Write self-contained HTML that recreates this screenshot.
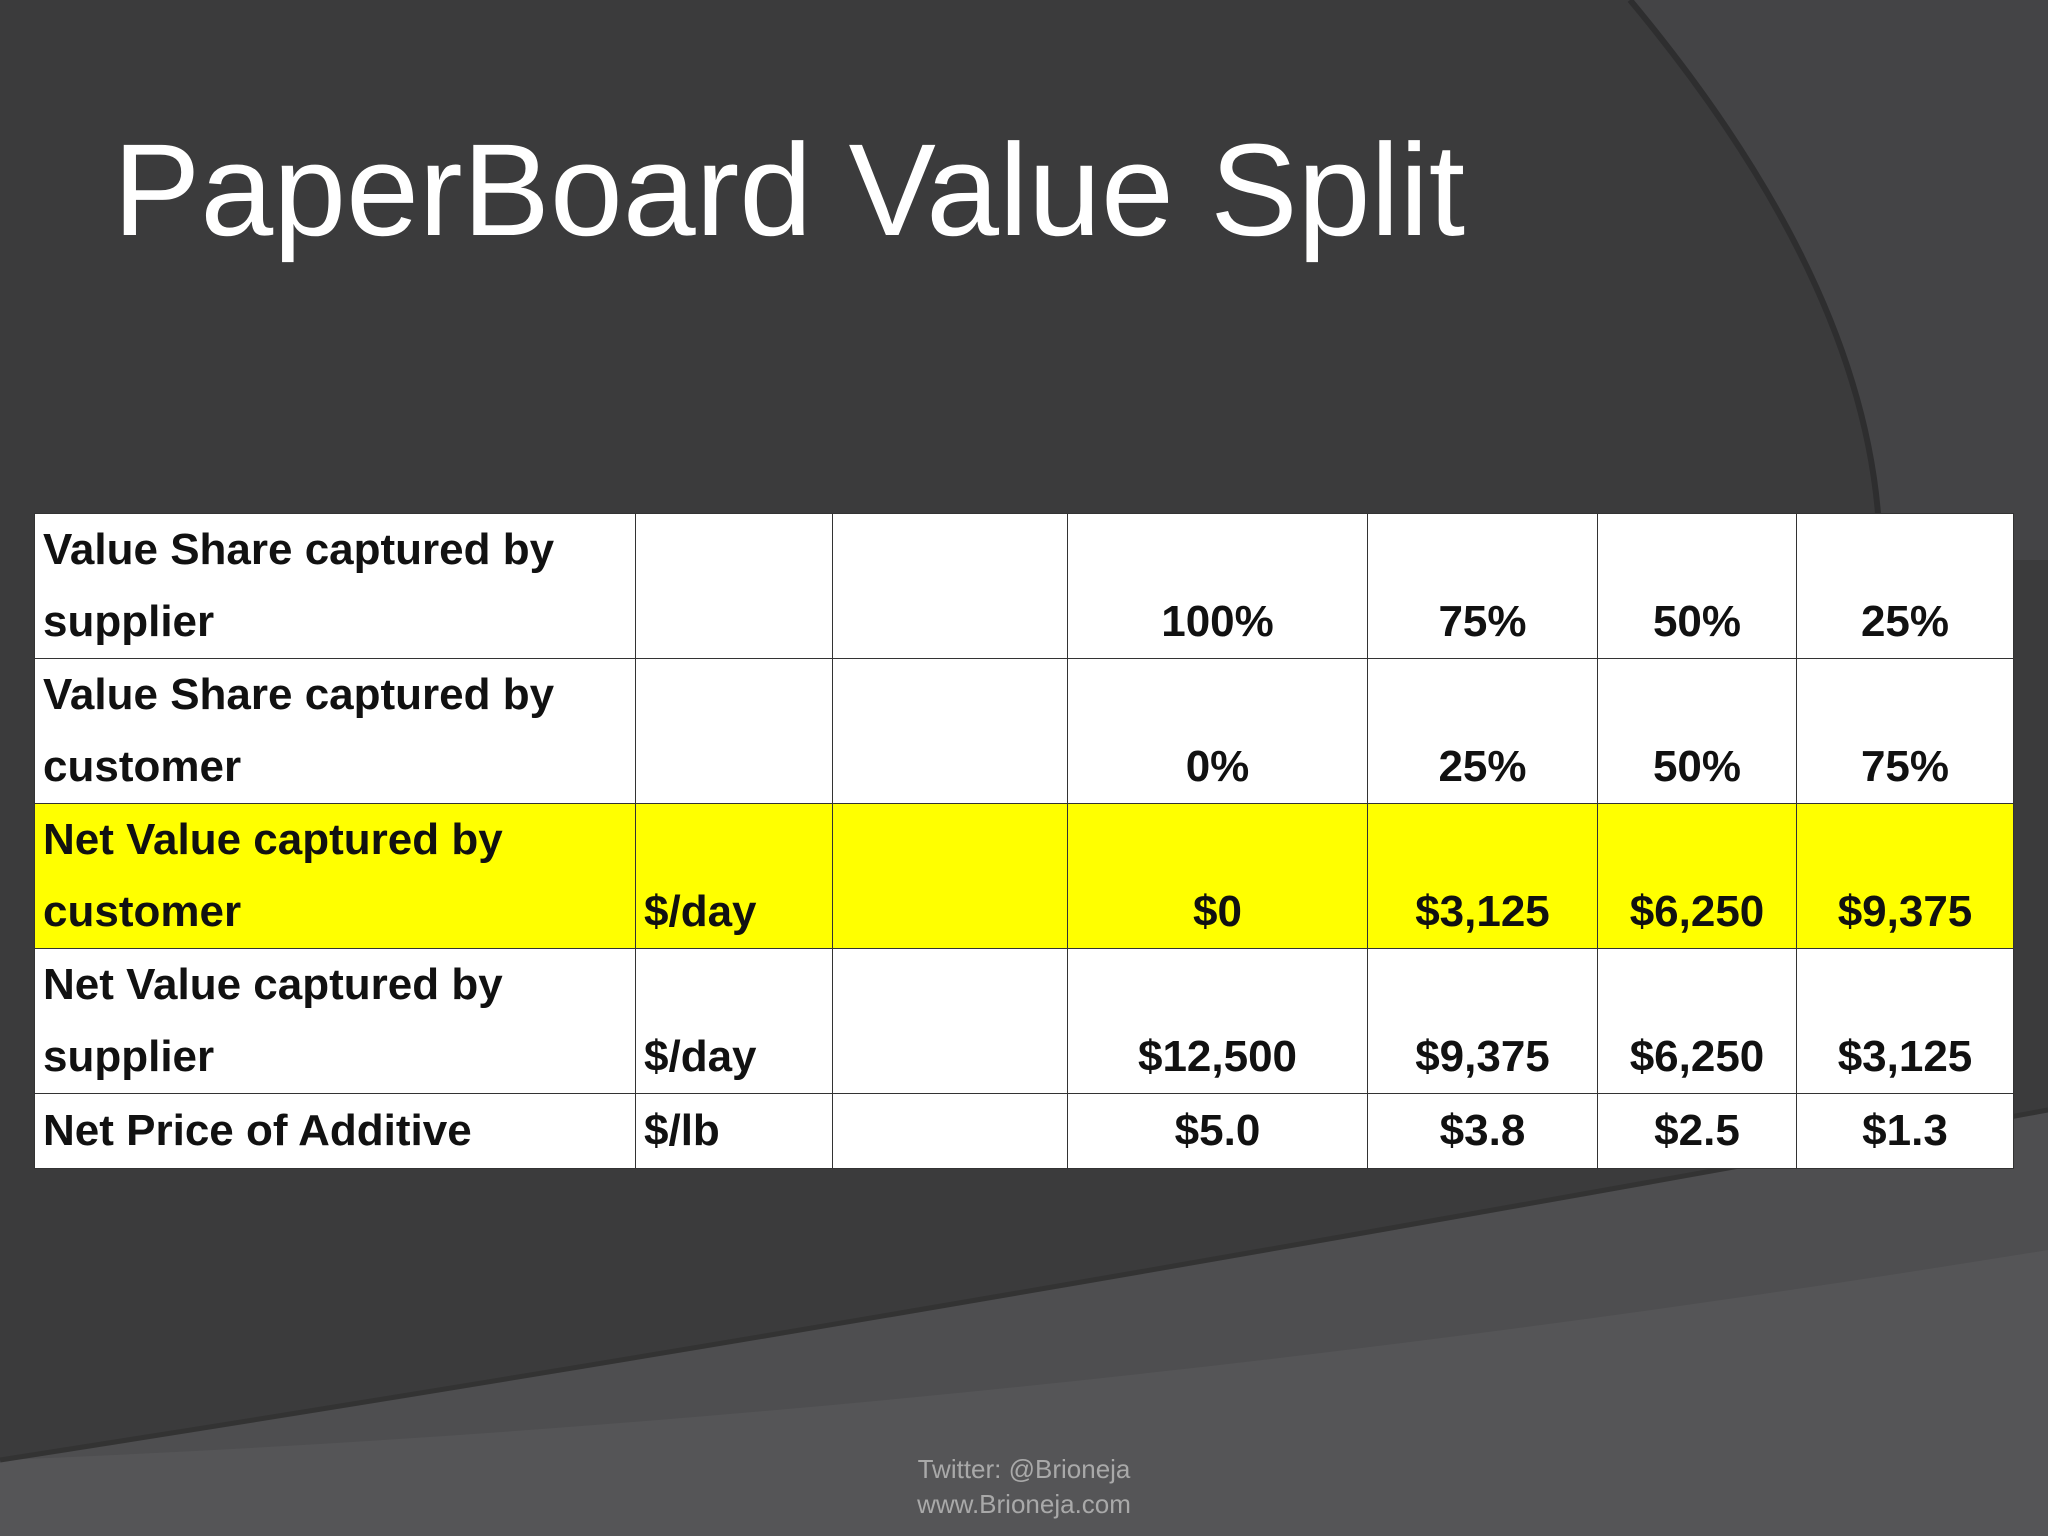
<!DOCTYPE html>
<html><head><meta charset="utf-8">
<style>
html,body{margin:0;padding:0;}
body{width:2048px;height:1536px;position:relative;overflow:hidden;background:#3b3b3c;font-family:"Liberation Sans",sans-serif;}
#bg{position:absolute;left:0;top:0;}
h1{position:absolute;left:113px;top:124px;margin:0;font-weight:normal;font-size:131px;color:#fff;line-height:1;white-space:nowrap;}
table{position:absolute;left:34px;top:513px;border-collapse:collapse;background:#fff;table-layout:fixed;}
td{border:1.5px solid #333;padding:0 8px;font-weight:bold;font-size:44px;color:#111;line-height:72px;vertical-align:bottom;}
td.lab{vertical-align:top;text-align:left;}
td.unit{text-align:left;}
td.num{text-align:center;}
tr.yel td{background:#ffff00;}
.foot{position:absolute;left:0;width:2048px;text-align:center;color:#a9a9a9;font-size:26px;line-height:34px;}
</style></head>
<body>
<svg id="bg" width="2048" height="1536" viewBox="0 0 2048 1536">
<path d="M1630,0 Q1880,300 1880,560 L2048,560 L2048,0 Z" fill="#444446"/>
<path d="M1630,0 Q1880,300 1880,560" stroke="#2e2e2f" stroke-width="6" fill="none"/>
<path d="M0,1460 Q900,1320 2048,1110 L2048,1536 L0,1536 Z" fill="#4e4e50"/>
<path d="M0,1460 Q1000,1420 2048,1250 L2048,1536 L0,1536 Z" fill="#555557"/>
<path d="M0,1460 Q900,1320 2048,1110" stroke="#333" stroke-width="5" fill="none"/>
</svg>
<h1>PaperBoard Value Split</h1>
<table>
<colgroup><col style="width:601px"><col style="width:197px"><col style="width:235px"><col style="width:300px"><col style="width:230px"><col style="width:199px"><col style="width:217px"></colgroup>
<tr style="height:143px">
<td class="lab">Value Share captured by supplier</td><td></td><td></td>
<td class="num">100%</td><td class="num">75%</td><td class="num">50%</td><td class="num">25%</td></tr>
<tr style="height:143px">
<td class="lab">Value Share captured by customer</td><td></td><td></td>
<td class="num">0%</td><td class="num">25%</td><td class="num">50%</td><td class="num">75%</td></tr>
<tr class="yel" style="height:142px">
<td class="lab">Net Value captured by customer</td><td class="unit">$/day</td><td></td>
<td class="num">$0</td><td class="num">$3,125</td><td class="num">$6,250</td><td class="num">$9,375</td></tr>
<tr style="height:143px">
<td class="lab">Net Value captured by supplier</td><td class="unit">$/day</td><td></td>
<td class="num">$12,500</td><td class="num">$9,375</td><td class="num">$6,250</td><td class="num">$3,125</td></tr>
<tr style="height:75px">
<td class="lab" style="vertical-align:middle">Net Price of Additive</td><td class="unit" style="vertical-align:middle">$/lb</td><td></td>
<td class="num" style="vertical-align:middle">$5.0</td><td class="num" style="vertical-align:middle">$3.8</td><td class="num" style="vertical-align:middle">$2.5</td><td class="num" style="vertical-align:middle">$1.3</td></tr>
</table>
<div class="foot" style="top:1452px">Twitter: @Brioneja</div>
<div class="foot" style="top:1487px">www.Brioneja.com</div>
</body></html>
